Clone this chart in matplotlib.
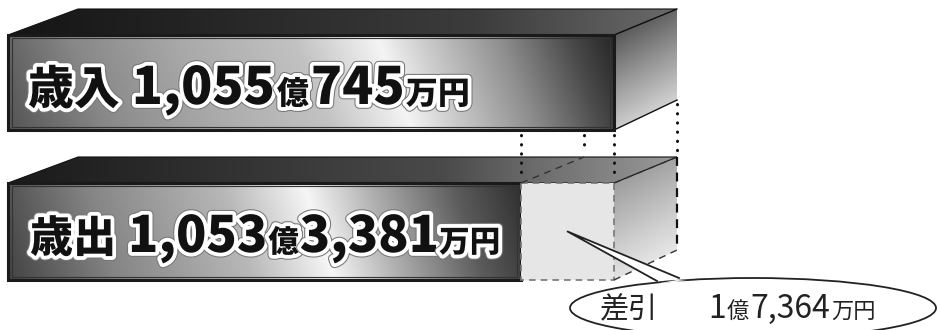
import numpy as np
import matplotlib
matplotlib.use("Agg")
import matplotlib.pyplot as plt
from matplotlib.patches import Polygon, Rectangle, Ellipse
from matplotlib.colors import LinearSegmentedColormap
import matplotlib.patheffects as pe

plt.rcParams['font.family'] = ['Noto Sans CJK JP', 'DejaVu Sans']

# 決算額（万円）
revenue = 10550745      # 歳入
expenditure = 10533381  # 歳出
balance = revenue - expenditure  # 差引

revenue_parts = ["歳入", "1,055", "億", "745", "万円"]
expenditure_parts = ["歳出", "1,053", "億", "3,381", "万円"]
balance_parts = ["差引", "1", "億", "7,364", "万円"]

# 横軸は万円単位（途中から表示）、縦はピクセル相当
X_MIN, X_MAX = 10436100, 10611600
W, H = 940, 330

fig = plt.figure(figsize=(W / 100, H / 100), dpi=100)
ax = fig.add_axes([0, 0, 1, 1])
ax.set_xlim(X_MIN, X_MAX)
ax.set_ylim(H, 0)
ax.axis('off')
px = (X_MAX - X_MIN) / W   # 1ピクセルあたりの万円
bar_left = X_MIN + 8 * px

DEPTH_L, DEPTH_R, RISE = 70 * px, 63 * px, 26


def cmap(stops):
    return LinearSegmentedColormap.from_list('g', stops)


def fill_gradient(patch, cm, direction='x', slant=0.0):
    # パッチの範囲にグラデーション画像を描いてクリップする
    verts = patch.get_patch_transform().transform(patch.get_path().vertices)
    x0, x1 = verts[:, 0].min(), verts[:, 0].max()
    y0, y1 = verts[:, 1].min(), verts[:, 1].max()
    gx, gy = np.meshgrid(np.linspace(0, 1, 400), np.linspace(0, 1, 100))
    if direction == 'x':
        g = gx + slant * (1 - gy)
    else:
        g = gy + slant * gx
    g = (g - g.min()) / (g.max() - g.min())
    im = ax.imshow(g, cmap=cm, extent=(x0, x1, y1, y0), aspect='auto',
                   origin='upper', zorder=patch.get_zorder() - 0.1, interpolation='bilinear')
    im.set_clip_path(patch)


front_revenue = cmap([(0, '#555555'), (0.15, '#878787'), (0.32, '#a9a9a9'), (0.5, '#c2c2c2'),
                      (0.63, '#f4f4f4'), (0.7, '#cccccc'), (0.82, '#8f8f8f'), (0.93, '#4a4a4a'),
                      (1, '#262626')])
front_expend = cmap([(0, '#444444'), (0.2, '#858585'), (0.45, '#b8b8b8'), (0.6, '#f6f6f6'),
                     (0.72, '#b0b0b0'), (0.88, '#5a5a5a'), (1, '#303030')])
top_dark = cmap([(0, '#151515'), (0.7, '#3c3c3c'), (1, '#6a6a6a')])
top_expend = cmap([(0, '#1a1a1a'), (0.65, '#4a4a4a'), (0.8, '#6e6e6e'), (1, '#9a9a9a')])
side_revenue = cmap([(0, '#3a3a3a'), (0.5, '#9a9a9a'), (1, '#f4f4f4')])
side_expend = cmap([(0, '#8a8a8a'), (0.6, '#d0d0d0'), (1, '#fbfbfb')])


def draw_box(y_top, y_bot, x_end, top_cm, side_cm):
    top = Polygon([(bar_left, y_top), (bar_left + DEPTH_L, y_top - RISE),
                   (x_end + DEPTH_R, y_top - RISE), (x_end, y_top)], closed=True,
                  facecolor='none', edgecolor='#111111', lw=0.8, zorder=2)
    ax.add_patch(top)
    fill_gradient(top, top_cm, 'x')
    side = Polygon([(x_end, y_top), (x_end + DEPTH_R, y_top - RISE),
                    (x_end + DEPTH_R, y_bot - RISE - 4), (x_end, y_bot)], closed=True,
                   facecolor='none', edgecolor='none', lw=0, zorder=2)
    ax.add_patch(side)
    fill_gradient(side, side_cm, 'y', slant=0.3)


# 歳入
y_rev, h_rev = 35, 95
draw_box(y_rev, y_rev + h_rev, revenue, top_dark, side_revenue)
ax.plot([revenue, revenue + DEPTH_R], [y_rev + h_rev, y_rev + h_rev - RISE - 4],
        color='#111111', lw=1.0, zorder=3)
ax.plot([revenue, revenue + DEPTH_R], [y_rev, y_rev - RISE], color='#111111', lw=0.8, zorder=3)
bar = ax.barh(y_rev + h_rev / 2, revenue - bar_left, left=bar_left, height=h_rev,
              facecolor='none', edgecolor='#1a1a1a', lw=2.2, zorder=4)[0]
fill_gradient(bar, front_revenue, 'x', slant=0.06)
ax.add_patch(Rectangle((bar_left + 4 * px, y_rev + 3), revenue - bar_left - 8 * px, h_rev - 6,
                       facecolor='none', edgecolor='#333333', lw=0.8, zorder=4))

# 歳出（差引分は破線の箱）
y_exp, h_exp = 183, 97
draw_box(y_exp, y_exp + h_exp, revenue, top_expend, side_expend)
bar = ax.barh(y_exp + h_exp / 2, expenditure - bar_left, left=bar_left, height=h_exp,
              facecolor='none', edgecolor='#1a1a1a', lw=2.2, zorder=4)[0]
fill_gradient(bar, front_expend, 'x', slant=0.06)
ax.add_patch(Rectangle((bar_left + 4 * px, y_exp + 3), expenditure - bar_left - 8 * px, h_exp - 6,
                       facecolor='none', edgecolor='#333333', lw=0.8, zorder=4))
ax.barh(y_exp + h_exp / 2, balance, left=expenditure, height=h_exp,
        facecolor='#e6e6e6', edgecolor='#777777', lw=1.2, linestyle=(0, (4, 3)), zorder=4)

# 破線の稜線
dash = dict(color='#333333', lw=1.0, linestyle=(0, (5, 4)), zorder=5)
ax.plot([expenditure, expenditure + DEPTH_R], [y_exp, y_exp - RISE], **dash)
ax.plot([revenue, revenue + DEPTH_R], [y_exp, y_exp - RISE], **dash)
ax.plot([revenue, revenue + DEPTH_R], [y_exp + h_exp, y_exp + h_exp - RISE - 4], **dash)
ax.plot([revenue + DEPTH_R] * 2, [y_exp - RISE, y_exp + h_exp - RISE - 4],
        color='#111111', lw=1.6, linestyle=(0, (4, 3)), zorder=5)

# 点線（歳入の端から歳出へ）
dot = dict(color='#111111', lw=2.2, linestyle=(0, (0.1, 2.9)), dash_capstyle='round', zorder=5)
ax.plot([expenditure, expenditure], [y_rev + h_rev + 5, y_exp - 5], **dot)
ax.plot([revenue, revenue], [y_rev + h_rev + 5, y_exp - 5], **dot)
ax.plot([expenditure + DEPTH_R] * 2, [y_rev + h_rev + 5, y_exp - RISE - 4], **dot)
ax.plot([revenue + DEPTH_R] * 2, [y_rev + h_rev - RISE, y_exp - RISE - 4], **dot)

# 吹き出し
tip = (expenditure + balance / 2, y_exp + h_exp / 2)
ell = Ellipse((X_MIN + 753 * px, 308), 366 * px, 60, facecolor='white',
              edgecolor='#222222', lw=1.3, zorder=6)
ax.add_patch(ell)
base_l = (X_MIN + 657 * px, 281)
base_r = (X_MIN + 679 * px, 278)
ax.add_patch(Polygon([base_l, tip, base_r], closed=True, facecolor='white',
                     edgecolor='none', zorder=7))
ax.plot([base_l[0], tip[0], base_r[0]], [base_l[1], tip[1], base_r[1]],
        color='#222222', lw=1.3, zorder=7)
ax.add_patch(Polygon([(base_l[0] + 3 * px, base_l[1] + 2), (base_l[0] - 8 * px, base_l[1] + 3),
                      (base_r[0] + 8 * px, base_r[1] + 3), (base_r[0] - 2 * px, base_r[1] + 2)],
                     closed=True, facecolor='white', edgecolor='none', zorder=7))

# ラベル（大きさの違う文字を同じベースラインで並べる）
renderer = fig.canvas.get_renderer()
stroke = [pe.Stroke(linewidth=7, foreground='#777777'),
          pe.Stroke(linewidth=5.5, foreground='white'), pe.Normal()]


def chain_text(x_px, y, parts, sizes, gaps, **kw):
    x = X_MIN + x_px * px
    for s, fs, g in zip(parts, sizes, [0] + gaps):
        x += g * px
        t = ax.text(x, y, s, fontsize=fs, va='baseline', ha='left', zorder=8, **kw)
        bb = t.get_window_extent(renderer)
        x = ax.transData.inverted().transform((bb.x1, 0))[0]


big = dict(fontweight='black', color='#111111', path_effects=stroke)
chain_text(28, 104, revenue_parts, [33, 37, 23, 37, 23], [12, 2, 2, 1], **big)
chain_text(30, 252, expenditure_parts, [31, 36, 22, 36, 22], [12, 1, 1, 0], **big)
chain_text(600, 318, balance_parts, [21, 23, 16, 23, 16], [50, 1, 1, 1],
           color='#222222', fontweight='regular')

fig.savefig('out.png', dpi=100)
